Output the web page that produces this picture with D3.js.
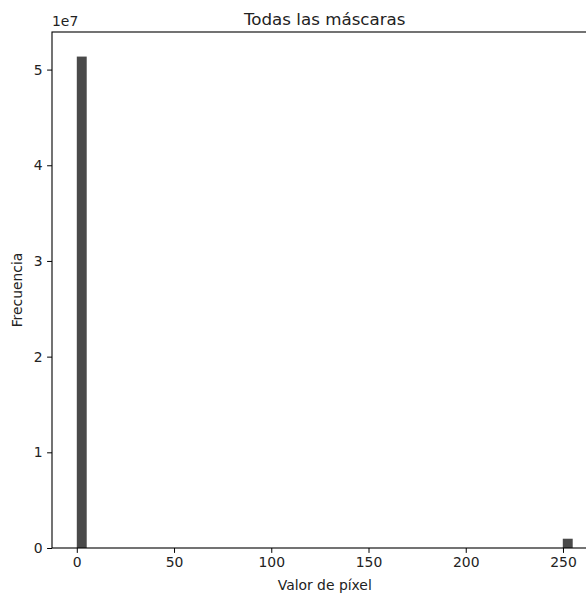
<!DOCTYPE html>
<html>
<head>
<meta charset="utf-8">
<script src="https://cdn.jsdelivr.net/npm/d3@7"></script>
<style>
  html, body { margin: 0; padding: 0; background: #fff; }
  svg { display: block; font-family: "DejaVu Sans", sans-serif; }
</style>
</head>
<body>
<svg id="chart" width="586" height="596"></svg>
<script>
// Histogram of pixel values over all masks: 50 bins spanning 0..255
const binStart = 0;
const binEnd = 255;
const counts = [
  51360000, 0, 0, 0, 0, 0, 0, 0, 0, 0,
  0, 0, 0, 0, 0, 0, 0, 0, 0, 0,
  0, 0, 0, 0, 0, 0, 0, 0, 0, 0,
  0, 0, 0, 0, 0, 0, 0, 0, 0, 0,
  0, 0, 0, 0, 0, 0, 0, 0, 0, 970000
];
const xTicks = [0, 50, 100, 150, 200, 250];
const yTicks = [0, 1e7, 2e7, 3e7, 4e7, 5e7];
const yTickLabels = ["0", "1", "2", "3", "4", "5"];
const titleText = "Todas las máscaras";
const xLabel = "Valor de píxel";
const yLabel = "Frecuencia";
const offsetText = "1e7";

const svg = d3.select("#chart");
const plot = { left: 52, top: 32, bottom: 548, right: 597.5 };

const binWidth = (binEnd - binStart) / counts.length;
const bins = counts.map((c, i) => ({ x0: binStart + i * binWidth, x1: binStart + (i + 1) * binWidth, count: c }));

const xPad = (binEnd - binStart) * 0.05;
const x = d3.scaleLinear().domain([binStart - xPad, binEnd + xPad]).range([plot.left, plot.right]);
const yMax = d3.max(counts) * 1.05;
const y = d3.scaleLinear().domain([0, yMax]).range([plot.bottom, plot.top]);

// bars
svg.append("g").selectAll("rect").data(bins.filter(b => b.count > 0)).join("rect")
  .attr("x", d => x(d.x0))
  .attr("width", d => x(d.x1) - x(d.x0))
  .attr("y", d => y(d.count))
  .attr("height", d => y(0) - y(d.count))
  .attr("fill", "#4a4a4a");

const fontSize = 13.9;

// x axis
const xAxis = svg.append("g").attr("transform", `translate(0,${plot.bottom})`)
  .call(d3.axisBottom(x).tickValues(xTicks).tickSize(4.9).tickPadding(4.5).tickFormat(d3.format("d")));
// y axis
const yAxis = svg.append("g").attr("transform", `translate(${plot.left},0)`)
  .call(d3.axisLeft(y).tickValues(yTicks).tickSize(4.9).tickPadding(4.5).tickFormat((d, i) => yTickLabels[i]));

[xAxis, yAxis].forEach(g => {
  g.select(".domain").remove();
  g.selectAll(".tick line").attr("stroke", "#000").attr("stroke-width", 1);
  g.selectAll(".tick text").attr("fill", "#222").style("font-size", fontSize + "px").style("font-family", "DejaVu Sans");
});

// frame
svg.append("rect")
  .attr("x", plot.left).attr("y", plot.top)
  .attr("width", plot.right - plot.left).attr("height", plot.bottom - plot.top)
  .attr("fill", "none").attr("stroke", "#000").attr("stroke-width", 1.1);

// title
svg.append("text")
  .attr("x", (plot.left + plot.right) / 2).attr("y", plot.top - 7.5)
  .attr("text-anchor", "middle")
  .style("font-size", "16.7px").attr("fill", "#222")
  .text(titleText);

// axis labels
svg.append("text")
  .attr("x", (plot.left + plot.right) / 2).attr("y", 590)
  .attr("text-anchor", "middle")
  .style("font-size", fontSize + "px").attr("fill", "#222")
  .text(xLabel);

svg.append("text")
  .attr("transform", `translate(22,${(plot.top + plot.bottom) / 2}) rotate(-90)`)
  .attr("text-anchor", "middle")
  .style("font-size", fontSize + "px").attr("fill", "#222")
  .text(yLabel);

// scientific offset
svg.append("text")
  .attr("x", plot.left).attr("y", plot.top - 6)
  .style("font-size", fontSize + "px").attr("fill", "#222")
  .text(offsetText);
</script>
</body>
</html>
